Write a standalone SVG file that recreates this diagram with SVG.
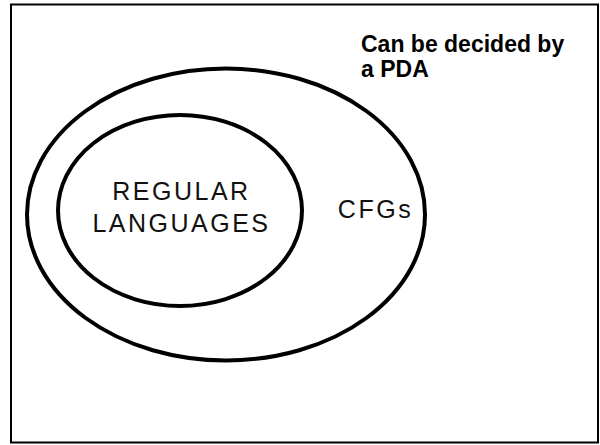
<svg xmlns="http://www.w3.org/2000/svg" width="600" height="445" viewBox="0 0 600 445">
<style>
.ell{fill:none;stroke:#000;stroke-width:4}
.lbl{font-family:"Liberation Sans",Arial,sans-serif;font-size:25px;letter-spacing:2.5px;fill:#111;text-anchor:middle}
.note{font-family:"Liberation Sans",Arial,sans-serif;font-size:23px;font-weight:bold;fill:#000}
</style>
<rect x="11" y="4.5" width="587" height="438" fill="#fff" stroke="#000" stroke-width="2"/>
<g id="cfgs">
<ellipse class="ell" cx="226" cy="214.5" rx="199" ry="146"/>
<text class="lbl" x="375.5" y="217.5">CFGs</text>
</g>
<g id="regular">
<ellipse class="ell" cx="180" cy="210.5" rx="122" ry="95.5"/>
<text class="lbl" x="181.5" y="199.5">REGULAR</text>
<text class="lbl" x="181.5" y="232">LANGUAGES</text>
</g>
<g id="note">
<text class="note" x="361" y="52">Can be decided by</text>
<text class="note" x="361" y="77">a PDA</text>
</g>
<g id="connectors"></g>
</svg>
